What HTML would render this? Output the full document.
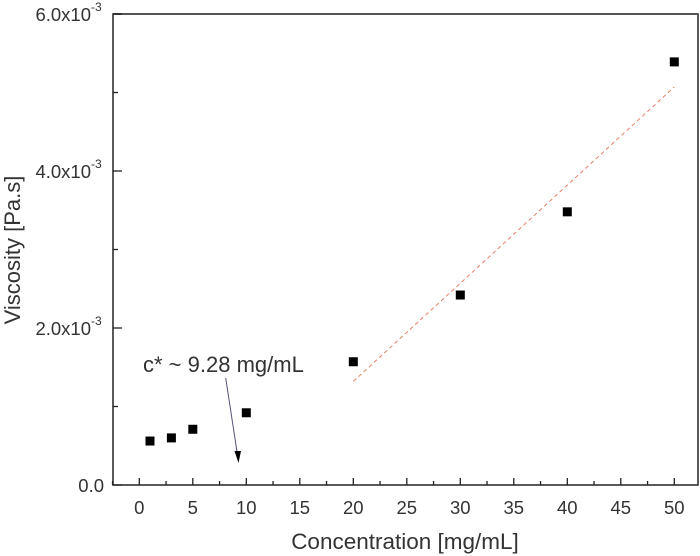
<!DOCTYPE html>
<html><head><meta charset="utf-8"><style>
html,body{margin:0;padding:0;background:#fff;}
svg{display:block;font-family:"Liberation Sans",Arial,sans-serif;}
</style></head><body>
<svg id="chart" width="700" height="556"></svg>
<script>
const concentrations=[1,3,5,10,20,30,40,50];
const viscosities=[0.56,0.60,0.71,0.92,1.57,2.42,3.48,5.39];
const fitX=[20,50];
const fitY=[1.32,5.07];
const xTicks=[0,5,10,15,20,25,30,35,40,45,50];
const yTicks=[0,2,4,6];
const yTickLabels=["0.0","2.0x10","4.0x10","6.0x10"];
const L=113,R=698,T=14,B=485;
const x=v=>139.3+(v)*10.7;
const y=v=>B-v*78.5;
const svg=document.getElementById('chart');
const NS='http://www.w3.org/2000/svg';
function mk(tag,attrs,parent){const e=document.createElementNS(NS,tag);for(const k in attrs)e.setAttribute(k,attrs[k]);(parent||svg).appendChild(e);return e;}
let f=mk('rect',{x:L,y:T,width:R-L,height:B-T,fill:'none',stroke:'#222','stroke-width':1.5});


mk('line',{x1:L,y1:T,x2:R,y2:T,stroke:'#555','stroke-width':2});
for(const t of xTicks){
 const tk=mk('line',{x1:x(t),y1:B,x2:x(t),y2:B-7,stroke:'#222','stroke-width':1.3});
 
 
 const m=mk('line',{x1:x(t+2.5),y1:B,x2:x(t+2.5),y2:B-4,stroke:'#222','stroke-width':1.3});
 
 
 const lb=mk('text',{x:x(t),y:B+29,'font-size':18.5,'text-anchor':'middle',fill:'#333'});
 lb.textContent=t;
 
 
}
mk('line',{x1:x(-2.5),y1:B,x2:x(-2.5),y2:B-4,stroke:'#222','stroke-width':1.3});
yTicks.forEach((t,i)=>{
 const tk=mk('line',{x1:L,y1:y(t),x2:L+9,y2:y(t),stroke:'#222','stroke-width':1.3});
 
 
 if(t<6){const m=mk('line',{x1:L,y1:y(t+1),x2:L+5,y2:y(t+1),stroke:'#222','stroke-width':1.3});
 
 }
 const lb=mk('text',{x:t===0?104:91,y:y(t)+7,'font-size':18.5,'text-anchor':'end',fill:'#333'});
 lb.textContent=yTickLabels[i];
 
 
 if(t>0){const s=mk('text',{x:91,y:y(t)-3,'font-size':12,fill:'#333'});s.textContent='-3';}
});
const fl=mk('line',{x1:x(fitX[0]),y1:y(fitY[0]),x2:x(fitX[1]),y2:y(fitY[1]),stroke:'#e8806a','stroke-width':1,'stroke-dasharray':'4,3'});


concentrations.forEach((c,i)=>{
 const p=mk('rect',{x:x(c)-4.5,y:y(viscosities[i])-4.5,width:9,height:9,fill:'#000'});
 
 
});
const an=mk('text',{x:143,y:372,'font-size':22,fill:'#333'});
an.textContent='c* ~ 9.28 mg/mL';


const ar=mk('line',{x1:225.7,y1:378,x2:237.5,y2:455,stroke:'#55557a','stroke-width':1});


mk('polygon',{points:'234.5,451 241,451 238.5,463',fill:'#000'});
const xt=mk('text',{x:405,y:549,'font-size':22.5,'text-anchor':'middle',fill:'#333'});
xt.textContent='Concentration [mg/mL]';


const yt=mk('text',{x:0,y:0,'font-size':22,'text-anchor':'middle',fill:'#333',transform:'translate(20,250) rotate(-90)'});
yt.textContent='Viscosity [Pa.s]';


</script>
</body></html>
